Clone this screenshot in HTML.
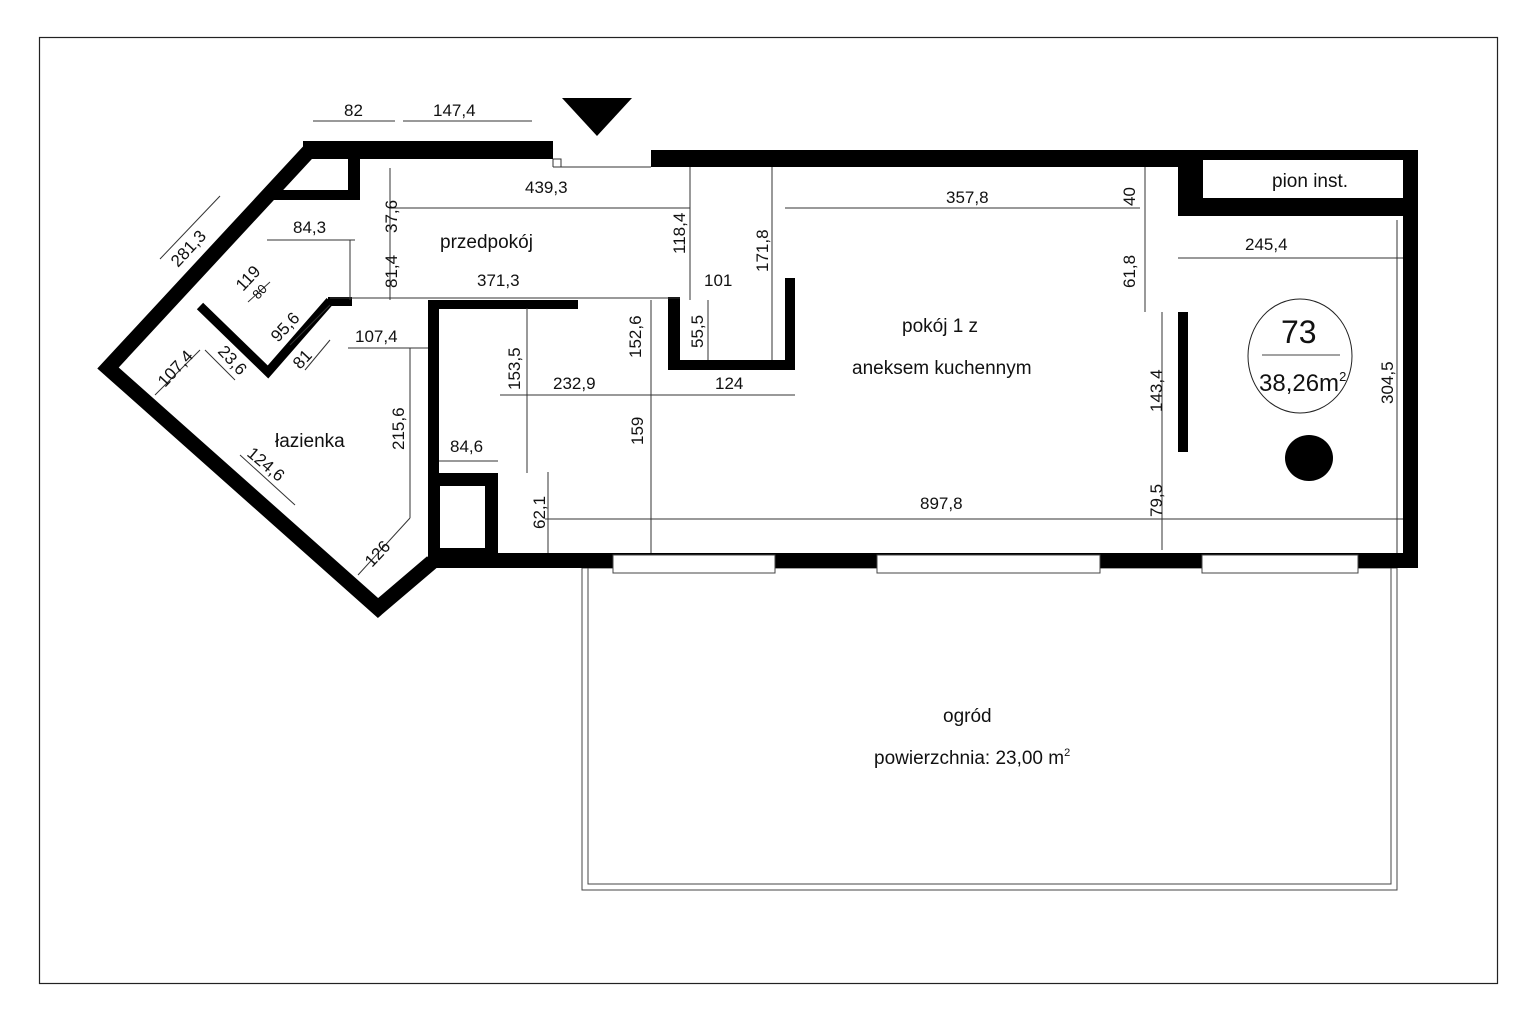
<!DOCTYPE html>
<html><head><meta charset="utf-8"><style>
html,body{margin:0;padding:0;background:#fff}
svg{display:block}
text{font-family:"Liberation Sans Narrow","Liberation Sans",sans-serif;font-size:17px;fill:#111}
.d{stroke:#333;stroke-width:1;fill:none}
</style></head><body>
<svg width="1536" height="1024" viewBox="0 0 1536 1024" xmlns="http://www.w3.org/2000/svg">
<rect x="39.5" y="37.5" width="1458" height="946" fill="none" stroke="#222" stroke-width="1.2"/>

<polygon points="562,98 632,98 597,136" fill="#000"/>

<rect x="582" y="568" width="815" height="322" fill="none" stroke="#444" stroke-width="1"/>
<rect x="588" y="568" width="803" height="316" fill="none" stroke="#444" stroke-width="1"/>

<g fill="#000">
  <rect x="303" y="141" width="250" height="18"/>
  <rect x="651" y="150" width="767" height="17"/>
  <rect x="1403" y="150" width="15" height="418"/>
  <rect x="1178" y="150" width="240" height="66"/>
  <rect x="432" y="553" width="986" height="15"/>
  <rect x="428" y="300" width="11" height="268"/>
  <rect x="428" y="300" width="150" height="9"/>
  <rect x="428" y="473" width="70" height="80"/>
  <rect x="668" y="297" width="12" height="73"/>
  <rect x="668" y="360" width="127" height="10"/>
  <rect x="785" y="278" width="10" height="92"/>
  <rect x="1178" y="312" width="10" height="140"/>
  <rect x="348" y="150" width="12" height="50"/>
  <rect x="328" y="297" width="24" height="9"/>
</g>
<rect x="1203" y="160" width="200" height="38" fill="#fff"/>
<rect x="440" y="486" width="45" height="62" fill="#fff"/>
<g fill="#fff" stroke="#444" stroke-width="1">
  <rect x="613" y="555" width="162" height="18"/>
  <rect x="877" y="555" width="223" height="18"/>
  <rect x="1202" y="555" width="156" height="18"/>
</g>
<path d="M553 167 H651 M553 159 V167 M553 159 H561 V167" class="d"/>

<polyline points="310,150 108,368 378,608 432,562" fill="none" stroke="#000" stroke-width="15" stroke-linejoin="miter"/>
<line x1="272" y1="195" x2="360" y2="195" stroke="#000" stroke-width="10"/>
<polyline points="200,306 268,372 330,301" fill="none" stroke="#000" stroke-width="9"/>

<g class="d">
  <line x1="313" y1="121" x2="395" y2="121"/>
  <line x1="403" y1="121" x2="532" y2="121"/>
  <line x1="389" y1="208" x2="690" y2="208"/>
  <line x1="390" y1="168" x2="390" y2="300"/>
  <line x1="690" y1="167" x2="690" y2="300"/>
  <line x1="772" y1="167" x2="772" y2="360"/>
  <line x1="267" y1="240" x2="355" y2="240"/>
  <line x1="350" y1="240" x2="350" y2="300"/>
  <line x1="330" y1="298" x2="680" y2="298"/>
  <line x1="785" y1="208" x2="1140" y2="208"/>
  <line x1="1145" y1="167" x2="1145" y2="312"/>
  <line x1="1178" y1="258" x2="1403" y2="258"/>
  <line x1="1162" y1="312" x2="1162" y2="550"/>
  <line x1="1397" y1="220" x2="1397" y2="553"/>
  <line x1="545" y1="519" x2="1403" y2="519"/>
  <line x1="548" y1="472" x2="548" y2="553"/>
  <line x1="651" y1="300" x2="651" y2="553"/>
  <line x1="527" y1="308" x2="527" y2="473"/>
  <line x1="500" y1="395" x2="795" y2="395"/>
  <line x1="708" y1="300" x2="708" y2="360"/>
  <line x1="439" y1="461" x2="498" y2="461"/>
  <line x1="410" y1="348" x2="410" y2="518"/>
  <line x1="348" y1="348" x2="428" y2="348"/>
  <line x1="358" y1="575" x2="410" y2="518"/>
  <line x1="240" y1="455" x2="295" y2="505"/>
  <line x1="160" y1="259" x2="220" y2="196"/>
  <line x1="155" y1="395" x2="200" y2="350"/>
  <line x1="205" y1="350" x2="235" y2="380"/>
  <line x1="290" y1="345" x2="330" y2="305"/>
  <line x1="248" y1="302" x2="270" y2="282"/>
  <line x1="305" y1="370" x2="330" y2="340"/>
</g>

<text x="344" y="116">82</text>
<text x="433" y="116">147,4</text>
<text x="525" y="193">439,3</text>
<text x="946" y="203">357,8</text>
<text x="293" y="233">84,3</text>
<text x="477" y="286">371,3</text>
<text x="704" y="286">101</text>
<text x="1245" y="250">245,4</text>
<text x="553" y="389">232,9</text>
<text x="715" y="389">124</text>
<text x="450" y="452">84,6</text>
<text x="355" y="342">107,4</text>
<text x="920" y="509">897,8</text>
<text x="440" y="248" style="font-size:19px">przedpokój</text>
<text x="275" y="447" style="font-size:19px">łazienka</text>
<text x="902" y="332" style="font-size:19px">pokój 1 z</text>
<text x="852" y="374" style="font-size:19px">aneksem kuchennym</text>
<text x="943" y="722" style="font-size:19px">ogród</text>
<text x="874" y="764" style="font-size:19px">powierzchnia: 23,00 m<tspan dy="-8" style="font-size:11px">2</tspan></text>
<text x="1272" y="187" style="font-size:19px">pion inst.</text>

<g>
  <text transform="translate(397,233) rotate(-90)">37,6</text>
  <text transform="translate(397,288) rotate(-90)">81,4</text>
  <text transform="translate(685,254) rotate(-90)">118,4</text>
  <text transform="translate(768,272) rotate(-90)">171,8</text>
  <text transform="translate(1135,206) rotate(-90)">40</text>
  <text transform="translate(1135,288) rotate(-90)">61,8</text>
  <text transform="translate(1162,412) rotate(-90)">143,4</text>
  <text transform="translate(1162,517) rotate(-90)">79,5</text>
  <text transform="translate(1393,404) rotate(-90)">304,5</text>
  <text transform="translate(545,529) rotate(-90)">62,1</text>
  <text transform="translate(643,445) rotate(-90)">159</text>
  <text transform="translate(520,390) rotate(-90)">153,5</text>
  <text transform="translate(641,358) rotate(-90)">152,6</text>
  <text transform="translate(703,348) rotate(-90)">55,5</text>
  <text transform="translate(404,450) rotate(-90)">215,6</text>
  <text transform="translate(178,268) rotate(-47)">281,3</text>
  <text transform="translate(243,292) rotate(-47)">119</text>
  <text transform="translate(278,343) rotate(-47)">95,6</text>
  <text transform="translate(165,388) rotate(-47)">107,4</text>
  <text transform="translate(300,370) rotate(-47)">81</text>
  <text transform="translate(372,568) rotate(-47)">126</text>
  <text transform="translate(217,352) rotate(47)">23,6</text>
  <text transform="translate(246,455) rotate(40)">124,6</text>
  <text transform="translate(258,300) rotate(-47)" style="font-size:13px">80</text>
</g>

<ellipse cx="1300" cy="356" rx="52" ry="57" fill="none" stroke="#222" stroke-width="1"/>
<line x1="1262" y1="355" x2="1340" y2="355" stroke="#444" stroke-width="1"/>
<text x="1281" y="343" style="font-size:32px">73</text>
<text x="1259" y="391" style="font-size:24px">38,26m<tspan dy="-10" style="font-size:13px">2</tspan></text>
<ellipse cx="1309" cy="458" rx="24" ry="23" fill="#000"/>
</svg>
</body></html>
